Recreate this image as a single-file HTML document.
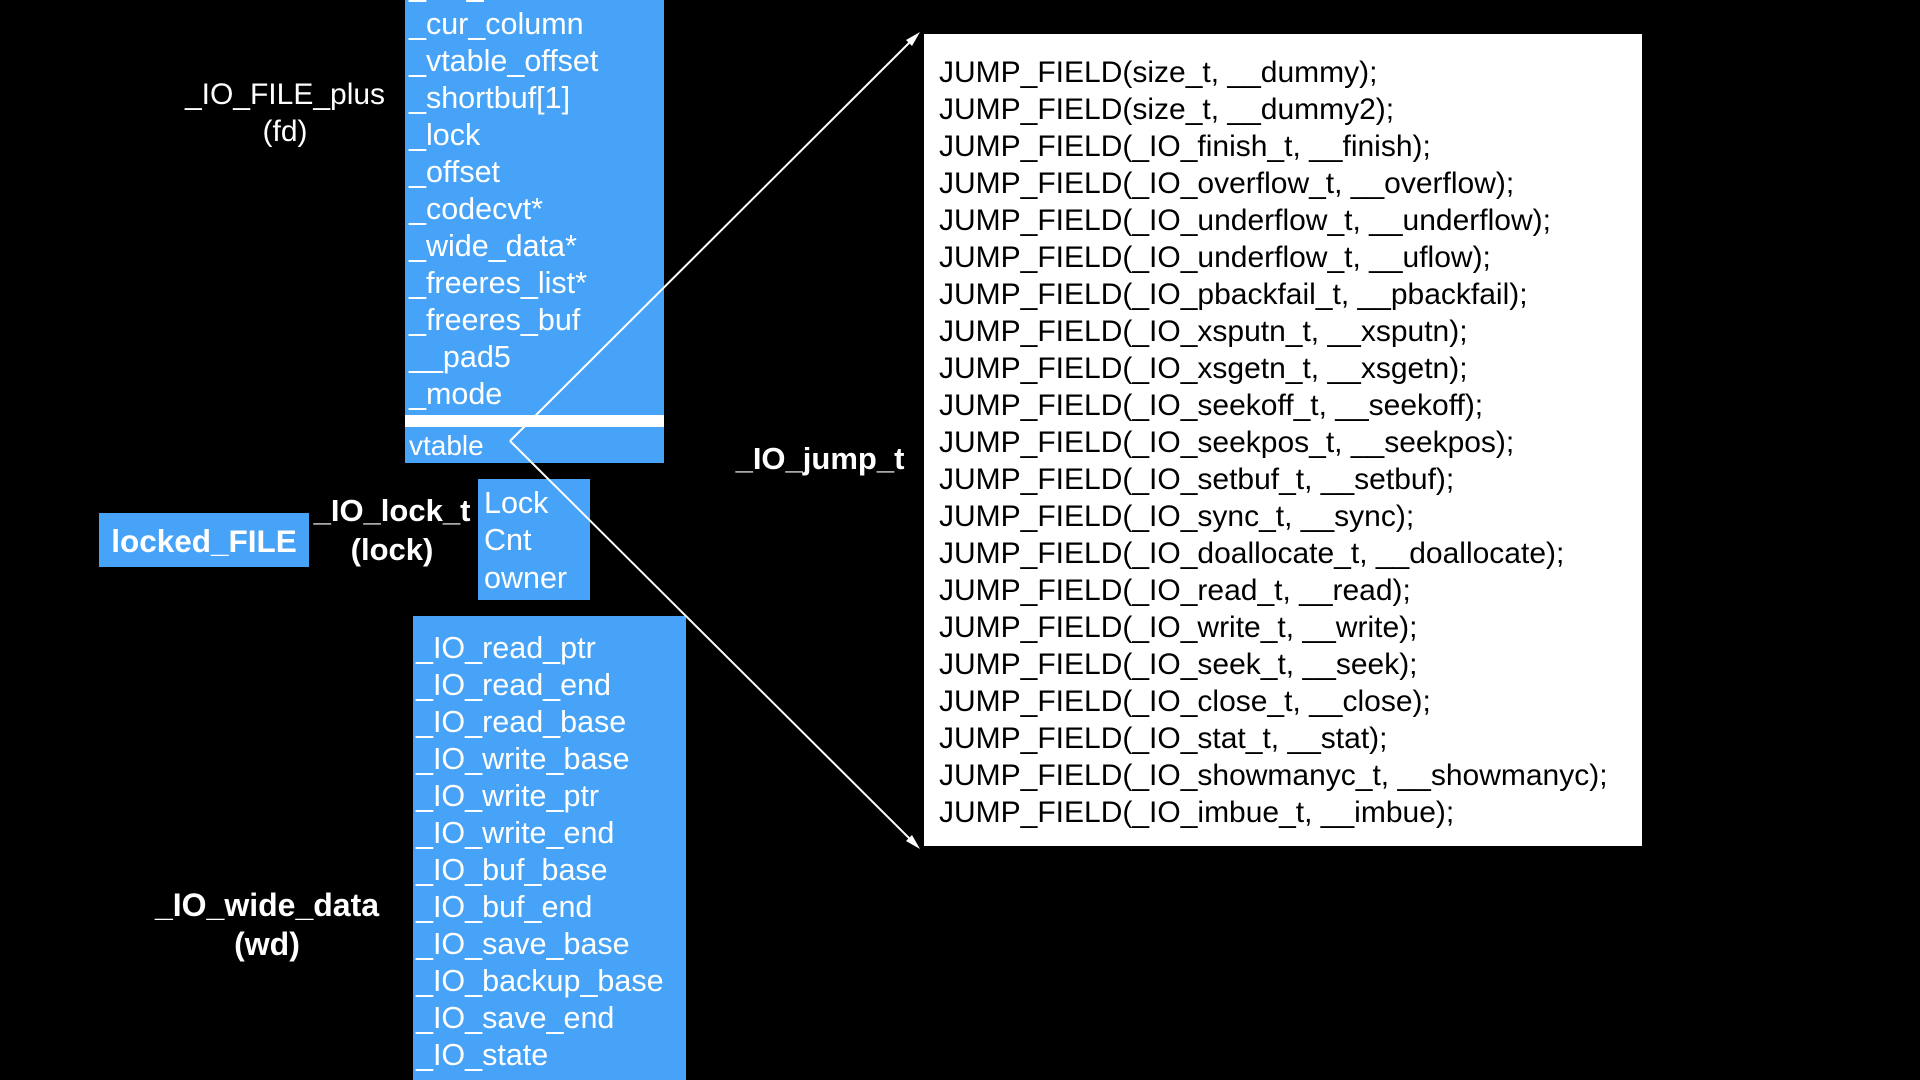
<!DOCTYPE html>
<html><head><meta charset="utf-8"><style>
html,body{margin:0;padding:0;background:#000;width:1920px;height:1080px;overflow:hidden}
svg{display:block}
text{font-family:"Liberation Sans",Arial,sans-serif}
</style></head><body>
<svg width="1920" height="1080" viewBox="0 0 1920 1080" xmlns="http://www.w3.org/2000/svg">
<rect width="1920" height="1080" fill="#000"/>
<!-- top blue box -->
<rect x="405" y="0" width="259" height="463" fill="#47a3f7"/>
<rect x="405" y="415" width="259" height="12" fill="#fff"/>
<g fill="#fff" font-size="30.5">
<text x="409" y="-4">_old_offset</text>
<text x="409" y="34">_cur_column</text>
<text x="409" y="71">_vtable_offset</text>
<text x="409" y="108">_shortbuf[1]</text>
<text x="409" y="145">_lock</text>
<text x="409" y="182">_offset</text>
<text x="409" y="219">_codecvt*</text>
<text x="409" y="256">_wide_data*</text>
<text x="409" y="293">_freeres_list*</text>
<text x="409" y="330">_freeres_buf</text>
<text x="409" y="367">__pad5</text>
<text x="409" y="404">_mode</text>
<text x="409" y="455" font-size="28">vtable</text>
</g>
<g fill="#fff" font-size="30" text-anchor="middle">
<text x="285" y="104">_IO_FILE_plus</text>
<text x="285" y="141">(fd)</text>
</g>
<!-- locked file -->
<rect x="99" y="513" width="210" height="54" fill="#47a3f7"/>
<text x="204" y="552" fill="#fff" font-size="31.5" font-weight="bold" text-anchor="middle">locked_FILE</text>
<g fill="#fff" font-size="31" font-weight="bold" text-anchor="middle">
<text x="392" y="521">_IO_lock_t</text>
<text x="392" y="560">(lock)</text>
</g>
<rect x="478" y="479" width="112" height="121" fill="#47a3f7"/>
<g fill="#fff" font-size="30.5">
<text x="484" y="513">Lock</text>
<text x="484" y="550">Cnt</text>
<text x="484" y="588">owner</text>
</g>
<!-- wide data -->
<rect x="413" y="616" width="273" height="464" fill="#47a3f7"/>
<g fill="#fff" font-size="30.5">
<text x="416" y="658">_IO_read_ptr</text>
<text x="416" y="695">_IO_read_end</text>
<text x="416" y="732">_IO_read_base</text>
<text x="416" y="769">_IO_write_base</text>
<text x="416" y="806">_IO_write_ptr</text>
<text x="416" y="843">_IO_write_end</text>
<text x="416" y="880">_IO_buf_base</text>
<text x="416" y="917">_IO_buf_end</text>
<text x="416" y="954">_IO_save_base</text>
<text x="416" y="991">_IO_backup_base</text>
<text x="416" y="1028">_IO_save_end</text>
<text x="416" y="1065">_IO_state</text>
</g>
<g fill="#fff" font-size="32" font-weight="bold" text-anchor="middle">
<text x="267" y="916">_IO_wide_data</text>
<text x="267" y="955">(wd)</text>
</g>
<!-- jump table -->
<rect x="924" y="34" width="718" height="812" fill="#fff"/>
<text x="820" y="469" fill="#fff" font-size="31" font-weight="bold" text-anchor="middle">_IO_jump_t</text>
<g fill="#000" font-size="30">
<text x="939" y="82">JUMP_FIELD(size_t, __dummy);</text>
<text x="939" y="119">JUMP_FIELD(size_t, __dummy2);</text>
<text x="939" y="156">JUMP_FIELD(_IO_finish_t, __finish);</text>
<text x="939" y="193">JUMP_FIELD(_IO_overflow_t, __overflow);</text>
<text x="939" y="230">JUMP_FIELD(_IO_underflow_t, __underflow);</text>
<text x="939" y="267">JUMP_FIELD(_IO_underflow_t, __uflow);</text>
<text x="939" y="304">JUMP_FIELD(_IO_pbackfail_t, __pbackfail);</text>
<text x="939" y="341">JUMP_FIELD(_IO_xsputn_t, __xsputn);</text>
<text x="939" y="378">JUMP_FIELD(_IO_xsgetn_t, __xsgetn);</text>
<text x="939" y="415">JUMP_FIELD(_IO_seekoff_t, __seekoff);</text>
<text x="939" y="452">JUMP_FIELD(_IO_seekpos_t, __seekpos);</text>
<text x="939" y="489">JUMP_FIELD(_IO_setbuf_t, __setbuf);</text>
<text x="939" y="526">JUMP_FIELD(_IO_sync_t, __sync);</text>
<text x="939" y="563">JUMP_FIELD(_IO_doallocate_t, __doallocate);</text>
<text x="939" y="600">JUMP_FIELD(_IO_read_t, __read);</text>
<text x="939" y="637">JUMP_FIELD(_IO_write_t, __write);</text>
<text x="939" y="674">JUMP_FIELD(_IO_seek_t, __seek);</text>
<text x="939" y="711">JUMP_FIELD(_IO_close_t, __close);</text>
<text x="939" y="748">JUMP_FIELD(_IO_stat_t, __stat);</text>
<text x="939" y="785">JUMP_FIELD(_IO_showmanyc_t, __showmanyc);</text>
<text x="939" y="822">JUMP_FIELD(_IO_imbue_t, __imbue);</text>
</g>
<!-- connectors -->
<g stroke="#fff" stroke-width="2" fill="none">
<line x1="510" y1="441" x2="916" y2="36"/>
<line x1="510" y1="441" x2="916" y2="845"/>
</g>
<polygon points="920,32 906,40 912,46" fill="#fff"/>
<polygon points="920,849 906,841 912,835" fill="#fff"/>
</svg>
</body></html>
